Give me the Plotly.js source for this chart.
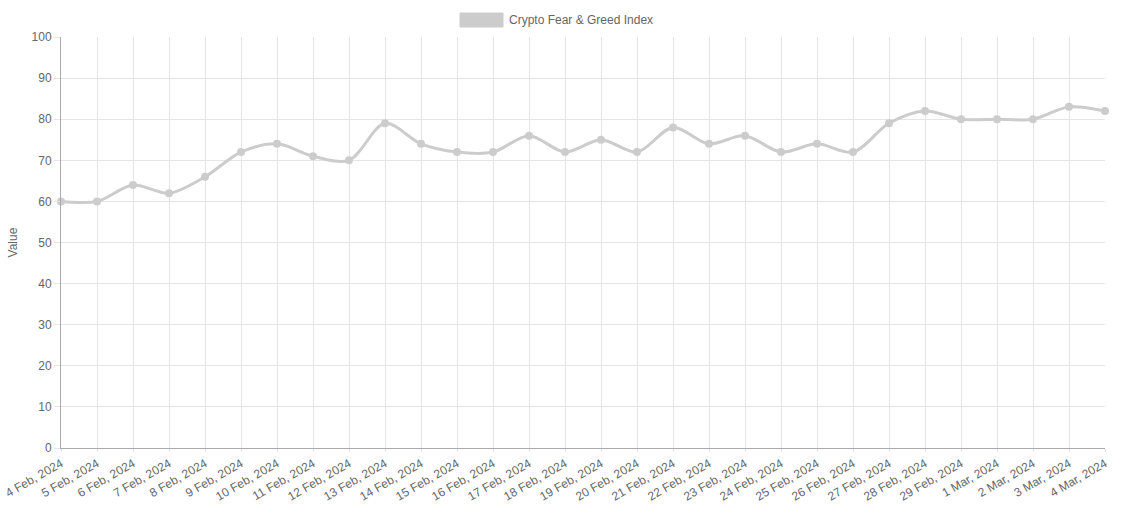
<!DOCTYPE html>
<html>
<head>
<meta charset="utf-8">
<script src="https://cdn.plot.ly/plotly-3.0.1.min.js"></script>
<style>html,body{margin:0;padding:0;background:#fff;}#chart{width:1129px;height:513px;}</style>
</head>
<body>
<div id="chart"></div>
<script>
const dates = ["4 Feb, 2024","5 Feb, 2024","6 Feb, 2024","7 Feb, 2024","8 Feb, 2024","9 Feb, 2024","10 Feb, 2024","11 Feb, 2024","12 Feb, 2024","13 Feb, 2024","14 Feb, 2024","15 Feb, 2024","16 Feb, 2024","17 Feb, 2024","18 Feb, 2024","19 Feb, 2024","20 Feb, 2024","21 Feb, 2024","22 Feb, 2024","23 Feb, 2024","24 Feb, 2024","25 Feb, 2024","26 Feb, 2024","27 Feb, 2024","28 Feb, 2024","29 Feb, 2024","1 Mar, 2024","2 Mar, 2024","3 Mar, 2024","4 Mar, 2024"];
const values = [60,60,64,62,66,72,74,71,70,79,74,72,72,76,72,75,72,78,74,76,72,74,72,79,82,80,80,80,83,82];
const seriesName = "Crypto Fear & Greed Index";
const yTicks = [0,10,20,30,40,50,60,70,80,90,100];

const fontFam = "Liberation Sans, Arial, Helvetica, sans-serif";
const trace = {
  x: dates.map((d,i)=>i),
  y: values,
  type: "scatter",
  mode: "lines+markers",
  name: seriesName,
  line: {color: "#cccccc", width: 3, shape: "spline", smoothing: 0.9},
  marker: {color: "#cccccc", size: 8},
  cliponaxis: false,
  showlegend: false,
  hoverinfo: "x+y"
};
const layout = {
  width: 1129, height: 513,
  margin: {l: 61, r: 24, t: 37, b: 65},
  paper_bgcolor: "#fff", plot_bgcolor: "#fff",
  font: {family: fontFam, size: 12, color: "#666"},
  xaxis: {
    range: [0, dates.length-1],
    tickmode: "array",
    tickvals: dates.map((d,i)=>i),
    ticktext: dates,
    tickangle: -30,
    showgrid: true, gridcolor: "#e5e5e5", gridwidth: 1,
    showline: true, linecolor: "#aaaaaa", linewidth: 1,
    ticks: "outside", ticklen: 3, tickcolor: "#e5e5e5",
    zeroline: false,
    tickfont: {family: fontFam, size: 12, color: "#666"}
  },
  yaxis: {
    range: [0, 100],
    tickmode: "array",
    tickvals: yTicks,
    showgrid: true, gridcolor: "#e5e5e5", gridwidth: 1,
    showline: true, linecolor: "#aaaaaa", linewidth: 1,
    ticks: "outside", ticklen: 6, tickcolor: "#e5e5e5",
    zeroline: false,
    tickfont: {family: fontFam, size: 12, color: "#666"},
    title: {text: "Value", font: {family: fontFam, size: 12, color: "#666"}, standoff: 11}
  },
  shapes: [{
    type: "rect", xref: "paper", yref: "paper",
    x0: (460-61)/1044, x1: (503-61)/1044,
    y0: (448-27)/411, y1: (448-13)/411,
    fillcolor: "#cccccc", line: {color: "#cccccc", width: 1}
  }],
  annotations: [{
    xref: "paper", yref: "paper",
    x: (507-61)/1044, y: (448-20)/411,
    xanchor: "left", yanchor: "middle",
    text: seriesName, showarrow: false,
    font: {family: fontFam, size: 12, color: "#666"}
  }]
};
Plotly.newPlot("chart", [trace], layout, {displayModeBar: false, staticPlot: true});
</script>
</body>
</html>
